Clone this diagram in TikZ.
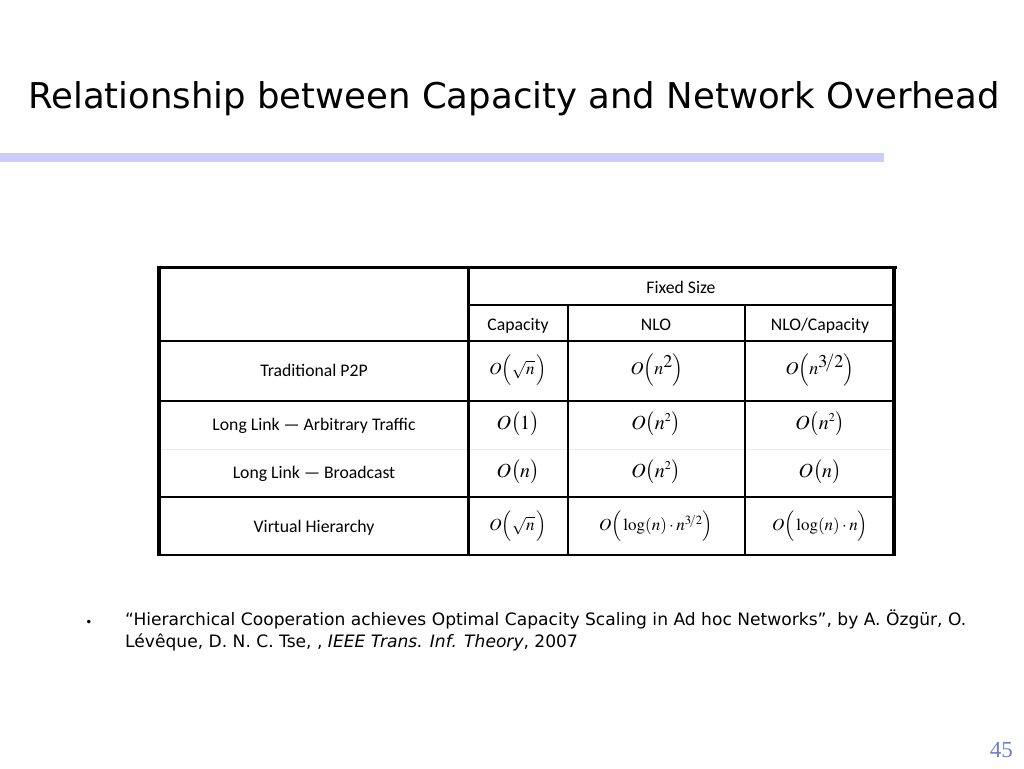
\documentclass[tikz,border=0pt]{standalone}
\usepackage{mathptmx}
\usepackage{fontspec}
\setmainfont{Carlito}
\newfontfamily\titlefont{DejaVu Sans}
\newfontfamily\pnfont{Liberation Serif}
\definecolor{barcol}{HTML}{CCCCFA}
\definecolor{pncol}{HTML}{6B7FD7}
\begin{document}
\begin{tikzpicture}[x=1pt,y=-1pt,
  cell/.style={inner sep=0pt,anchor=center,yshift=-2pt,text height=12.5pt,text depth=3.8pt,font=\fontsize{17.7}{20}\selectfont},
  mth/.style={inner sep=0pt,anchor=center,font=\fontsize{17}{20}\selectfont},
  mthb/.style={inner sep=0pt,anchor=center,font=\fontsize{20}{22}\selectfont},
  thin line/.style={line width=1.4pt}]
\useasboundingbox (0,0) rectangle (1024,768);
\fill[white] (0,0) rectangle (1024,768);
% title
\node[inner sep=0pt,anchor=base west,font=\titlefont\fontsize{35.5}{40}\selectfont] (title) at (28,108) {Relationship between Capacity and Network Overhead};
\fill[barcol] (0,153) rectangle (884,162);
% table grid
\draw[thin line] (468,305) -- (895,305);
\draw[thin line] (159,341) -- (895,341);
\draw[thin line] (159,401) -- (895,401);
\draw[line width=0.8pt,black!8] (159,449) -- (895,449);
\draw[thin line] (159,497) -- (895,497);
\draw[line width=2pt] (159,555) -- (895,555);
\draw[thin line] (568,305) -- (568,555);
\draw[thin line] (745,305) -- (745,555);
\draw[line width=3pt] (468,267) -- (468,555);
\draw[line width=3pt] (157,267) -- (897,267);
\draw[line width=4pt] (159,265.5) -- (159,556);
\draw[line width=4pt] (894,265.5) -- (894,556);
% header
\node[cell] (fs) at (681,287) {Fixed Size};
\node[cell] (hc) at (518,324) {Capacity};
\node[cell] (hn) at (656,324) {NLO};
\node[cell] (hr) at (820,324) {NLO/Capacity};
% row labels
\node[cell] (r1) at (314,370) {Traditional P2P};
\node[cell] (r2) at (314,424) {Long Link — Arbitrary Traffic};
\node[cell] (r3) at (314,472) {Long Link — Broadcast};
\node[cell] (r4) at (314,526) {Virtual Hierarchy};
% row 1
\node[mth] (c11) at (518,370) {$O\Big(\sqrt{n}\,\Big)$};
\node[mth,font=\fontsize{18}{20}\selectfont] (c12) at (657,370) {$O\Big(n^{\textstyle 2}\Big)$};
\node[mth,font=\fontsize{18}{20}\selectfont] (c13) at (820,370) {$O\Big(n^{\textstyle 3\!/2}\Big)$};
% row 2
\node[mthb] (c21) at (518,424) {$O\bigl(1\bigr)$};
\node[mthb] (c22) at (656,424) {$O\bigl(n^{\scriptscriptstyle 2}\bigr)$};
\node[mthb] (c23) at (820,424) {$O\bigl(n^{\scriptscriptstyle 2}\bigr)$};
% row 3
\node[mthb] (c31) at (518,472) {$O\bigl(n\bigr)$};
\node[mthb] (c32) at (656,472) {$O\bigl(n^{\scriptscriptstyle 2}\bigr)$};
\node[mthb] (c33) at (820,472) {$O\bigl(n\bigr)$};
% row 4
\node[mth] (c41) at (518,526) {$O\Big(\sqrt{n}\,\Big)$};
\node[mth] (c42) at (656,526) {$O\Big(\log(n)\cdot n^{3\!/2}\Big)$};
\node[mth] (c43) at (820,526) {$O\Big(\log(n)\cdot n\Big)$};
% footer
\node[inner sep=0pt,anchor=base,font=\titlefont\fontsize{12}{14}\selectfont] (bul) at (89,626) {•};
\node[inner sep=0pt,anchor=base west,font=\titlefont\fontsize{17.1}{20}\selectfont] (ref1) at (125,625) {“Hierarchical Cooperation achieves Optimal Capacity Scaling in Ad hoc Networks”, by A. Özgür, O.};
\node[inner sep=0pt,anchor=base west,font=\titlefont\fontsize{17.1}{20}\selectfont] (ref2) at (125,647) {Lévêque, D. N. C. Tse, , \textit{IEEE Trans. Inf. Theory}, 2007};
\node[inner sep=0pt,anchor=base east,text=pncol,font=\pnfont\fontsize{23}{26}\selectfont] (pn) at (1013,757) {45};
\end{tikzpicture}
\end{document}
